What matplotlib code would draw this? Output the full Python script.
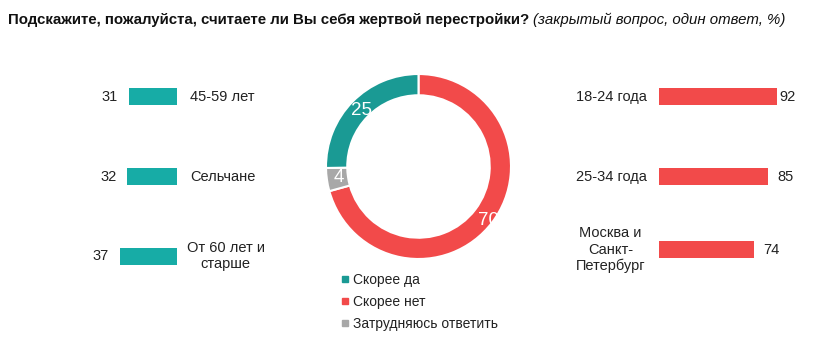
import matplotlib
matplotlib.use("Agg")
from matplotlib import pyplot as plt
from matplotlib.lines import Line2D

# data
left_labels = ["45-59 лет", "Сельчане", "От 60 лет и\nстарше"]
left_values = [31, 32, 37]
right_labels = ["18-24 года", "25-34 года", "Москва и\nСанкт-\nПетербург"]
right_values = [92, 85, 74]
pie_labels = ["Скорее нет", "Затрудняюсь ответить", "Скорее да"]
pie_values = [70, 4, 25]

TEAL = "#17aca6"
TEAL_D = "#1a9a94"
RED = "#f24a4a"
GREY = "#a8a8a8"
TXT = "#222222"

plt.rcParams["font.family"] = ["Liberation Sans", "DejaVu Sans"]

W, H = 814, 356
fig = plt.figure(figsize=(W / 100, H / 100), dpi=100)

def px_axes(x0, y0, x1, y1):
    # pixel box (top-left origin) -> figure axes
    return fig.add_axes([x0 / W, 1 - y1 / H, (x1 - x0) / W, (y1 - y0) / H])

# title
ann_ax = px_axes(0, 0, W, H)
ann_ax.axis("off")
t1 = fig.text(8 / W, 1 - 27 / H, "Подскажите, пожалуйста, считаете ли Вы себя жертвой перестройки?",
              fontsize=10.8, fontweight="bold", color="#111111", va="bottom")
ann_ax.annotate("(закрытый вопрос, один ответ, %)", xy=(1, 0), xycoords=t1,
                xytext=(3, 0), textcoords="offset points", va="bottom",
                fontsize=10.8, fontstyle="italic", color="#111111")

# left bars
axl = px_axes(84, 57, 177, 296)
ypos_l = [0, 1, 2]
axl.barh(ypos_l, left_values, height=0.21, color=TEAL)
axl.set_xlim(60, 0)
axl.set_ylim(2.5, -0.5)
axl.axis("off")
for y, v, lab in zip(ypos_l, left_values, left_labels):
    axl.annotate(str(v), xy=(v, y), xytext=(-8, 0), textcoords="offset points",
                 ha="right", va="center", fontsize=10.5, color=TXT)
    if "\n" in lab:
        axl.annotate(lab, xy=(0, y), xytext=(35, 0), textcoords="offset points",
                     ha="center", va="center", fontsize=10.5, color=TXT,
                     multialignment="center")
    else:
        axl.annotate(lab, xy=(0, y), xytext=(9.5, 0), textcoords="offset points",
                     ha="left", va="center", fontsize=10.5, color=TXT)

# right bars
axr = px_axes(659, 57, 787, 296)
ypos_r = [0, 1, 1.92]
axr.barh(ypos_r, right_values, height=0.21, color=RED)
axr.set_xlim(0, 100)
axr.set_ylim(2.5, -0.5)
axr.axis("off")
for y, v, lab in zip(ypos_r, right_values, right_labels):
    axr.annotate(str(v), xy=(v, y), xytext=(2 if v > 90 else 7, 0), textcoords="offset points",
                 ha="left", va="center", fontsize=10.5, color=TXT)
    if "\n" in lab:
        axr.annotate(lab, xy=(0, y), xytext=(-35, 0), textcoords="offset points",
                     ha="center", va="center", fontsize=10.5, color=TXT,
                     multialignment="center")
    else:
        axr.annotate(lab, xy=(0, y), xytext=(-9, 0), textcoords="offset points",
                     ha="right", va="center", fontsize=10.5, color=TXT)

# donut
axp = px_axes(326, 74, 511, 259)
wedges, texts = axp.pie(pie_values, colors=[RED, GREY, TEAL_D], startangle=90,
                        counterclock=False, radius=1, labels=[str(v) for v in pie_values],
                        labeldistance=0.87,
                        wedgeprops=dict(width=0.23, edgecolor="white", linewidth=1.5))
for t in texts:
    t.set_color("white")
    t.set_fontsize(13.5)
    t.set_ha("center")
    t.set_va("center")
    t.set_clip_on(False)
    t.set_zorder(5)
# the big slice label sits a bit further out
x70, y70 = texts[0].get_position()
texts[0].set_position((x70 * 1.1, y70 * 1.1))
axp.set_aspect("equal")
axp.set_xlim(-1, 1)
axp.set_ylim(-1, 1)

# legend
handles = [Line2D([], [], marker="s", ls="", color=c, markersize=5)
           for c in [TEAL_D, RED, GREY]]
fig.legend(handles, ["Скорее да", "Скорее нет", "Затрудняюсь ответить"],
           loc="upper left", bbox_to_anchor=(334 / W, 1 - 267 / H), frameon=False,
           fontsize=10, handletextpad=0.2, labelspacing=0.6, handlelength=0.8,
           borderaxespad=0, labelcolor=TXT)

fig.savefig("out.png", dpi=100, facecolor="white")
